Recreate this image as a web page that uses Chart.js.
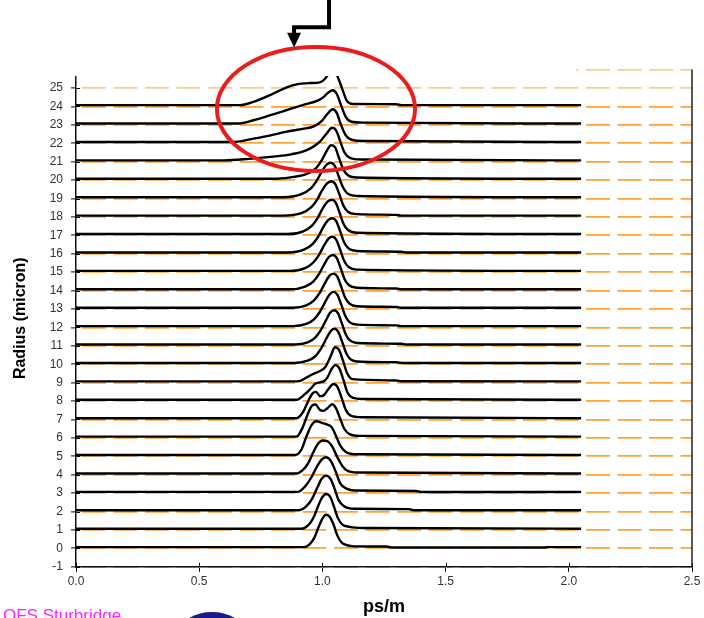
<!DOCTYPE html>
<html>
<head>
<meta charset="utf-8">
<script src="https://cdn.jsdelivr.net/npm/chart.js@4.4.1/dist/chart.umd.min.js"></script>
<style>
  html, body { margin: 0; padding: 0; background: #fff; }
  #wrap { width: 704px; height: 618px; position: relative; }
</style>
</head>
<body>
<div id="wrap"><canvas id="dmd"></canvas></div>
<script>
// 半径ごとのDMDパルス波形 (x: ps/m, h: ベースラインからの高さ)
const radii = [0, 1, 2, 3, 4, 5, 6, 7, 8, 9, 10, 11, 12, 13, 14, 15, 16, 17, 18, 19, 20, 21, 22, 23, 24]
const traceStart = 0.0
const traceEnd = 2.05
const baseLift = 0.07

const pulseShapes = [
  [[0.925,0],[0.948,0.15],[0.967,0.5],[0.985,1.1],[1.0,1.55],[1.016,1.76],[1.031,1.62],[1.046,1.2],[1.06,0.65],[1.076,0.28],[1.1,0.1],[1.13,0.04],[1.26,0.03],[1.28,-0.02],[1.9,-0.02],[1.92,0]],
  [[0.915,0],[0.942,0.18],[0.962,0.55],[0.982,1.2],[0.999,1.7],[1.016,1.88],[1.032,1.72],[1.047,1.2],[1.062,0.6],[1.08,0.24],[1.11,0.1],[1.17,0.04]],
  [[0.905,0],[0.935,0.22],[0.958,0.62],[0.98,1.25],[0.998,1.72],[1.016,1.88],[1.034,1.68],[1.05,1.15],[1.066,0.55],[1.088,0.22],[1.13,0.08],[1.35,0.06],[1.37,0]],
  [[0.9,0],[0.93,0.3],[0.955,0.78],[0.977,1.35],[0.997,1.75],[1.014,1.88],[1.034,1.68],[1.054,1.1],[1.073,0.45],[1.1,0.16],[1.13,0.07],[1.38,0.05],[1.4,-0.01]],
  [[0.895,0],[0.92,0.18],[0.942,0.55],[0.963,1.15],[0.983,1.62],[1.0,1.79],[1.02,1.76],[1.04,1.45],[1.06,0.9],[1.08,0.42],[1.1,0.16],[1.14,0.05]],
  [[0.89,0],[0.915,0.3],[0.938,1.1],[0.956,1.62],[0.975,1.83],[0.997,1.75],[1.018,1.66],[1.037,1.52],[1.055,1.05],[1.072,0.52],[1.095,0.17],[1.14,0.04]],
  [[0.895,0],[0.92,0.5],[0.94,1.2],[0.958,1.68],[0.972,1.74],[0.99,1.45],[1.005,1.4],[1.022,1.56],[1.04,1.76],[1.056,1.52],[1.072,0.98],[1.09,0.4],[1.112,0.12],[1.15,0.04]],
  [[0.895,0],[0.922,0.35],[0.943,0.95],[0.96,1.35],[0.974,1.43],[0.99,1.2],[1.005,1.24],[1.025,1.6],[1.045,1.86],[1.061,1.7],[1.078,1.1],[1.095,0.45],[1.115,0.14],[1.16,0.05]],
  [[0.895,0],[0.93,0.32],[0.952,0.6],[0.972,0.88],[0.99,0.95],[1.005,1.0],[1.02,1.2],[1.037,1.66],[1.052,1.88],[1.068,1.72],[1.086,1.05],[1.102,0.38],[1.125,0.1],[1.16,0.04]],
  [[0.9,0],[0.935,0.2],[0.962,0.4],[0.988,0.55],[1.012,0.78],[1.033,1.35],[1.051,1.85],[1.067,1.72],[1.083,1.15],[1.1,0.45],[1.122,0.12],[1.3,0.05],[1.32,0.01]],
  [[0.89,0],[0.94,0.12],[0.97,0.35],[0.992,0.72],[1.012,1.22],[1.032,1.7],[1.048,1.86],[1.064,1.7],[1.08,1.15],[1.096,0.55],[1.112,0.22],[1.14,0.08],[1.3,0.04],[1.33,0]],
  [[0.89,0],[0.94,0.12],[0.97,0.36],[0.992,0.75],[1.012,1.25],[1.031,1.72],[1.047,1.86],[1.063,1.7],[1.079,1.15],[1.095,0.55],[1.112,0.22],[1.14,0.08],[1.32,0.04],[1.34,0]],
  [[0.88,0],[0.935,0.12],[0.967,0.38],[0.99,0.78],[1.01,1.28],[1.029,1.72],[1.045,1.86],[1.061,1.7],[1.077,1.15],[1.093,0.55],[1.11,0.22],[1.14,0.08],[1.3,0.04],[1.32,0]],
  [[0.88,0],[0.935,0.13],[0.966,0.4],[0.989,0.8],[1.009,1.3],[1.028,1.73],[1.044,1.85],[1.06,1.7],[1.076,1.15],[1.092,0.55],[1.11,0.22],[1.14,0.08],[1.3,0.04],[1.32,0]],
  [[0.87,0],[0.93,0.15],[0.963,0.42],[0.986,0.82],[1.006,1.32],[1.025,1.74],[1.042,1.86],[1.058,1.7],[1.074,1.15],[1.09,0.55],[1.108,0.22],[1.14,0.08],[1.3,0.04],[1.32,0]],
  [[0.87,0],[0.93,0.15],[0.962,0.44],[0.985,0.84],[1.005,1.34],[1.024,1.74],[1.04,1.85],[1.056,1.7],[1.072,1.15],[1.088,0.55],[1.106,0.22],[1.14,0.07]],
  [[0.86,0],[0.925,0.15],[0.96,0.45],[0.983,0.86],[1.003,1.36],[1.023,1.75],[1.04,1.86],[1.056,1.7],[1.072,1.15],[1.088,0.55],[1.106,0.22],[1.14,0.08],[1.32,0.04],[1.34,0]],
  [[0.86,0],[0.922,0.15],[0.958,0.46],[0.981,0.88],[1.001,1.38],[1.021,1.76],[1.038,1.86],[1.054,1.7],[1.07,1.15],[1.086,0.55],[1.104,0.22],[1.14,0.07]],
  [[0.84,0],[0.915,0.13],[0.955,0.46],[0.98,0.9],[1.0,1.4],[1.02,1.77],[1.037,1.87],[1.053,1.7],[1.069,1.15],[1.085,0.55],[1.103,0.22],[1.14,0.08],[1.3,0.04],[1.32,0]],
  [[0.84,0],[0.912,0.15],[0.952,0.46],[0.977,0.9],[0.998,1.4],[1.017,1.77],[1.034,1.87],[1.05,1.7],[1.066,1.15],[1.083,0.55],[1.1,0.22],[1.14,0.07]],
  [[0.8,0],[0.87,0.08],[0.935,0.25],[0.972,0.55],[0.997,1.0],[1.017,1.5],[1.035,1.82],[1.051,1.72],[1.067,1.15],[1.085,0.5],[1.105,0.18],[1.14,0.07]],
  [[0.6,0],[0.7,0.08],[0.78,0.18],[0.86,0.3],[0.92,0.47],[0.96,0.72],[0.99,1.02],[1.015,1.42],[1.04,1.77],[1.056,1.62],[1.072,1.05],[1.09,0.42],[1.112,0.14],[1.16,0.05]],
  [[0.64,0],[0.72,0.18],[0.79,0.36],[0.855,0.56],[0.92,0.71],[0.965,0.85],[0.998,1.15],[1.02,1.52],[1.042,1.78],[1.058,1.58],[1.075,0.95],[1.094,0.38],[1.118,0.12],[1.17,0.05]],
  [[0.66,0],[0.72,0.18],[0.79,0.46],[0.855,0.73],[0.92,1.0],[0.983,1.26],[1.003,1.42],[1.022,1.66],[1.042,1.81],[1.058,1.62],[1.075,1.02],[1.094,0.38],[1.118,0.1],[1.17,0.05]],
  [[0.665,0],[0.72,0.18],[0.79,0.56],[0.855,0.97],[0.895,1.13],[0.95,1.2],[0.99,1.24],[1.01,1.42],[1.025,1.7],[1.042,1.9],[1.058,1.66],[1.08,0.9],[1.1,0.22],[1.125,0.06],[1.3,0.05],[1.32,0]]
]

const xTicks = [0.0, 0.5, 1.0, 1.5, 2.0, 2.5]
const yMin = -1
const yMax = 26

// データセット作成
const datasets = radii.map((r, i) => {
  const pts = [{ x: traceStart, y: r + baseLift }]
  pulseShapes[i].forEach(([x, h]) => pts.push({ x: x, y: r + baseLift + h }))
  pts.push({ x: traceEnd, y: r + baseLift })
  return {
    label: 'r' + r,
    data: pts,
    showLine: true,
    borderColor: '#000',
    borderWidth: 2.4,
    pointRadius: 0,
    cubicInterpolationMode: 'monotone',
    fill: false
  }
})

// 注釈 (白マスク、右枠、赤楕円、矢印、フッター)
const annotate = {
  id: 'annotate',
  afterDraw(chart) {
    const { ctx, chartArea, scales: { x, y } } = chart
    ctx.save()

    // 軸を横切る内側の目盛り
    ctx.strokeStyle = '#000'
    ctx.lineWidth = 1
    xTicks.forEach(v => {
      const px = Math.round(x.getPixelForValue(v)) + 0.5
      ctx.beginPath(); ctx.moveTo(px, chartArea.bottom); ctx.lineTo(px, chartArea.bottom - 4); ctx.stroke()
    })
    for (let v = yMin; v < yMax; v++) {
      const py = Math.round(y.getPixelForValue(v)) + 0.5
      ctx.beginPath(); ctx.moveTo(chartArea.left, py); ctx.lineTo(chartArea.left + 4, py); ctx.stroke()
    }

    // 上部の白マスク
    ctx.fillStyle = '#fff'
    ctx.fillRect(0, 0, x.getPixelForValue(2.03), y.getPixelForValue(25.65))

    // 右枠
    ctx.strokeStyle = '#222'
    ctx.lineWidth = 1.5
    ctx.beginPath()
    ctx.moveTo(chartArea.right, chartArea.top)
    ctx.lineTo(chartArea.right, chartArea.bottom)
    ctx.stroke()

    // 赤い楕円
    const cx = x.getPixelForValue(0.974)
    const cy = y.getPixelForValue(23.86)
    const rx = x.getPixelForValue(0.974 + 0.402) - cx
    const ry = y.getPixelForValue(23.86 - 3.37) - cy
    ctx.strokeStyle = '#ea1c1c'
    ctx.lineWidth = 4
    ctx.beginPath()
    ctx.ellipse(cx, cy, rx, ry, 0, 0, Math.PI * 2)
    ctx.stroke()

    // 矢印
    const ax1 = x.getPixelForValue(1.027)
    const ax2 = x.getPixelForValue(0.885)
    const ayTurn = y.getPixelForValue(28.3)
    const ayHead = y.getPixelForValue(28.0)
    const ayTip = y.getPixelForValue(27.2)
    ctx.strokeStyle = '#000'
    ctx.fillStyle = '#000'
    ctx.lineWidth = 4
    ctx.lineJoin = 'miter'
    ctx.beginPath()
    ctx.moveTo(ax1, 0)
    ctx.lineTo(ax1, ayTurn)
    ctx.lineTo(ax2, ayTurn)
    ctx.lineTo(ax2, ayHead + 1)
    ctx.stroke()
    ctx.beginPath()
    ctx.moveTo(ax2 - 7, ayHead)
    ctx.lineTo(ax2 + 7, ayHead)
    ctx.lineTo(ax2, ayTip)
    ctx.closePath()
    ctx.fill()

    // フッター
    ctx.fillStyle = '#ff22ff'
    ctx.font = '17px "Liberation Sans", Arial, sans-serif'
    ctx.textBaseline = 'alphabetic'
    ctx.textAlign = 'left'
    ctx.fillText('OFS Sturbridge', 3, 621)
    ctx.fillStyle = '#1a1a90'
    ctx.beginPath()
    ctx.ellipse(212, 631, 31, 19, 0, 0, Math.PI * 2)
    ctx.fill()

    ctx.restore()
  }
}

new Chart(document.getElementById('dmd'), {
  type: 'scatter',
  data: { datasets: datasets },
  options: {
    responsive: true,
    maintainAspectRatio: false,
    animation: false,
    layout: { padding: { top: 69.6, right: 12, left: 0, bottom: 0 } },
    plugins: {
      legend: { display: false },
      tooltip: { enabled: false }
    },
    scales: {
      x: {
        type: 'linear',
        min: 0,
        max: 2.5,
        afterFit: (scale) => { scale.height = 51.2 },
        afterBuildTicks: (scale) => { scale.ticks = xTicks.map(v => ({ value: v })) },
        ticks: {
          padding: 3,
          color: '#333',
          font: { family: '"Liberation Sans", Arial, sans-serif', size: 12 },
          callback: (v) => Number(v).toFixed(1),
          maxRotation: 0
        },
        grid: {
          drawOnChartArea: false,
          color: '#000',
          tickLength: 5
        },
        border: { color: '#111', width: 1.5 },
        title: {
          display: true,
          text: 'ps/m',
          color: '#000',
          font: { family: '"Liberation Sans", Arial, sans-serif', size: 18, weight: 'bold' },
          padding: { top: 3, bottom: 0 }
        }
      },
      y: {
        type: 'linear',
        min: yMin,
        max: yMax,
        afterFit: (scale) => { scale.width = 76 },
        ticks: {
          stepSize: 1,
          autoSkip: false,
          padding: 8,
          color: '#333',
          font: { family: '"Liberation Sans", Arial, sans-serif', size: 12 },
          callback: (v) => (v === yMax ? '' : v)
        },
        grid: {
          color: (c) => (c.tick && c.tick.value >= 25 ? '#ffc98c' : '#ffa238'),
          lineWidth: 1.8,
          tickColor: '#000',
          tickLength: 5,
          tickWidth: 1
        },
        border: { color: '#111', width: 1.5, dash: [24, 7.5], dashOffset: 26 },
        title: {
          display: true,
          text: 'Radius (micron)',
          color: '#000',
          font: { family: '"Liberation Sans", Arial, sans-serif', size: 16, weight: 'bold' },
          padding: { top: 11, bottom: 0 }
        }
      }
    }
  },
  plugins: [annotate]
})
</script>
</body>
</html>
